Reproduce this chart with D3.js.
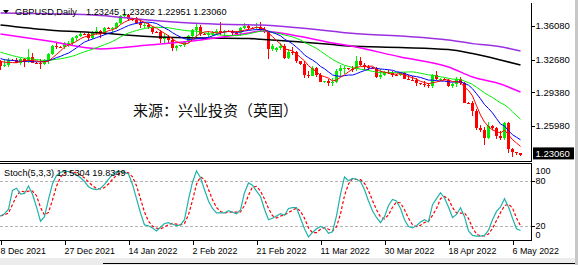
<!DOCTYPE html>
<html><head><meta charset="utf-8">
<script src="https://cdn.jsdelivr.net/npm/d3@7"></script>
<style>html,body{margin:0;padding:0;background:#fff;overflow:hidden}svg{display:block}</style>
</head><body><div id="chart"></div>
<script>
// ---------- DATA ----------
const dates = [
"2021-12-08","2021-12-09","2021-12-10","2021-12-12","2021-12-13","2021-12-14","2021-12-15","2021-12-16","2021-12-17","2021-12-19",
"2021-12-20","2021-12-21","2021-12-22","2021-12-23","2021-12-24","2021-12-26","2021-12-27","2021-12-28","2021-12-29","2021-12-30",
"2021-12-31","2022-01-02","2022-01-03","2022-01-04","2022-01-05","2022-01-06","2022-01-07","2022-01-09","2022-01-10","2022-01-11",
"2022-01-12","2022-01-13","2022-01-14","2022-01-16","2022-01-17","2022-01-18","2022-01-19","2022-01-20","2022-01-21","2022-01-23",
"2022-01-24","2022-01-25","2022-01-26","2022-01-27","2022-01-28","2022-01-30","2022-01-31","2022-02-01","2022-02-02","2022-02-03",
"2022-02-04","2022-02-06","2022-02-07","2022-02-08","2022-02-09","2022-02-10","2022-02-11","2022-02-13","2022-02-14","2022-02-15",
"2022-02-16","2022-02-17","2022-02-18","2022-02-20","2022-02-21","2022-02-22","2022-02-23","2022-02-24","2022-02-25","2022-02-27",
"2022-02-28","2022-03-01","2022-03-02","2022-03-03","2022-03-04","2022-03-06","2022-03-07","2022-03-08","2022-03-09","2022-03-10",
"2022-03-11","2022-03-13","2022-03-14","2022-03-15","2022-03-16","2022-03-17","2022-03-18","2022-03-20","2022-03-21","2022-03-22",
"2022-03-23","2022-03-24","2022-03-25","2022-03-27","2022-03-28","2022-03-29","2022-03-30","2022-03-31","2022-04-01","2022-04-03",
"2022-04-04","2022-04-05","2022-04-06","2022-04-07","2022-04-08","2022-04-10","2022-04-11","2022-04-12","2022-04-13","2022-04-14",
"2022-04-15","2022-04-17","2022-04-18","2022-04-19","2022-04-20","2022-04-21","2022-04-22","2022-04-24","2022-04-25","2022-04-26",
"2022-04-27","2022-04-28","2022-04-29","2022-05-01","2022-05-02","2022-05-03","2022-05-04","2022-05-05","2022-05-06","2022-05-08",
"2022-05-09"];

const opens = [
1.3240,1.3205,1.3215,1.3265,1.3262,1.3235,1.3270,1.3250,1.3295,1.3235,
1.3230,1.3220,1.3250,1.3325,1.3410,1.3400,1.3398,1.3435,1.3440,1.3490,
1.3505,1.3530,1.3525,1.3490,1.3540,1.3555,1.3530,1.3590,1.3588,1.3590,
1.3640,1.3705,1.3715,1.3675,1.3670,1.3640,1.3615,1.3620,1.3595,1.3550,
1.3548,1.3480,1.3500,1.3465,1.3390,1.3410,1.3412,1.3450,1.3510,1.3570,
1.3600,1.3530,1.3528,1.3530,1.3535,1.3560,1.3555,1.3560,1.3555,1.3540,
1.3535,1.3590,1.3610,1.3590,1.3588,1.3595,1.3570,1.3550,1.3380,1.3370,
1.3390,1.3410,1.3280,1.3350,1.3345,1.3250,1.3225,1.3110,1.3105,1.3180,
1.3110,1.3040,1.3048,1.3030,1.3040,1.3150,1.3180,1.3180,1.3175,1.3170,
1.3250,1.3210,1.3190,1.3185,1.3178,1.3090,1.3110,1.3145,1.3135,1.3115,
1.3110,1.3130,1.3070,1.3065,1.3060,1.3030,1.3020,1.3015,1.3000,1.3110,
1.3070,1.3075,1.3065,1.3000,1.3020,1.3070,1.3030,1.2835,1.2830,1.2745,
1.2575,1.2560,1.2480,1.2600,1.2575,1.2500,1.2480,1.2625,1.2365,1.2335,
1.23245];
const highs = [
1.3262,1.3275,1.3280,1.3270,1.3280,1.3280,1.3285,1.3375,1.3340,1.3240,
1.3270,1.3270,1.3340,1.3415,1.3440,1.3405,1.3450,1.3460,1.3500,1.3520,
1.3550,1.3535,1.3545,1.3560,1.3600,1.3565,1.3600,1.3595,1.3600,1.3650,
1.3720,1.3749,1.3725,1.3680,1.3700,1.3665,1.3645,1.3640,1.3605,1.3555,
1.3565,1.3535,1.3520,1.3485,1.3420,1.3415,1.3455,1.3520,1.3580,1.3630,
1.3620,1.3535,1.3560,1.3560,1.3580,1.3645,1.3570,1.3565,1.3570,1.3560,
1.3600,1.3640,1.3620,1.3595,1.3640,1.3645,1.3600,1.3560,1.3430,1.3395,
1.3440,1.3430,1.3380,1.3400,1.3360,1.3255,1.3255,1.3150,1.3200,1.3195,
1.3130,1.3050,1.3070,1.3080,1.3170,1.3210,1.3200,1.3185,1.3200,1.3300,
1.3290,1.3230,1.3215,1.3190,1.3190,1.3170,1.3150,1.3160,1.3150,1.3120,
1.3135,1.3140,1.3110,1.3100,1.3080,1.3035,1.3050,1.3030,1.3120,1.3150,
1.3080,1.3080,1.3070,1.3030,1.3090,1.3090,1.3040,1.2845,1.2850,1.2770,
1.2610,1.2590,1.2635,1.2605,1.2585,1.2545,1.2640,1.2640,1.2380,1.2340,
1.23262];
const lows = [
1.3160,1.3195,1.3190,1.3255,1.3230,1.3210,1.3190,1.3230,1.3230,1.3225,
1.3170,1.3210,1.3220,1.3315,1.3380,1.3390,1.3380,1.3400,1.3410,1.3460,
1.3495,1.3515,1.3460,1.3480,1.3520,1.3490,1.3520,1.3580,1.3530,1.3575,
1.3630,1.3690,1.3655,1.3660,1.3630,1.3590,1.3585,1.3580,1.3525,1.3540,
1.3440,1.3435,1.3435,1.3360,1.3360,1.3400,1.3400,1.3435,1.3500,1.3490,
1.3510,1.3520,1.3500,1.3510,1.3520,1.3520,1.3490,1.3550,1.3510,1.3520,
1.3510,1.3580,1.3570,1.3580,1.3570,1.3550,1.3540,1.3270,1.3360,1.3350,
1.3365,1.3270,1.3270,1.3320,1.3230,1.3215,1.3085,1.3080,1.3100,1.3090,
1.3040,1.3030,1.3000,1.3000,1.3030,1.3090,1.3120,1.3165,1.3140,1.3150,
1.3200,1.3160,1.3160,1.3170,1.3080,1.3070,1.3100,1.3120,1.3090,1.3105,
1.3100,1.3070,1.3060,1.3050,1.3000,1.3015,1.2990,1.2980,1.2980,1.3060,
1.3050,1.3060,1.2990,1.2980,1.2990,1.3010,1.2830,1.2820,1.2700,1.2560,
1.2540,1.2410,1.2470,1.2560,1.2470,1.2460,1.2460,1.2330,1.2280,1.2310,
1.22951];
const closes = [
1.3205,1.3215,1.3265,1.3262,1.3235,1.3270,1.3250,1.3295,1.3235,1.3230,
1.3220,1.3250,1.3325,1.3410,1.3400,1.3398,1.3435,1.3440,1.3490,1.3505,
1.3530,1.3525,1.3490,1.3540,1.3555,1.3530,1.3590,1.3588,1.3590,1.3640,
1.3705,1.3715,1.3675,1.3670,1.3640,1.3615,1.3620,1.3595,1.3550,1.3548,
1.3480,1.3500,1.3465,1.3390,1.3410,1.3412,1.3450,1.3510,1.3570,1.3600,
1.3530,1.3528,1.3530,1.3535,1.3560,1.3555,1.3560,1.3555,1.3540,1.3535,
1.3590,1.3610,1.3590,1.3588,1.3595,1.3570,1.3550,1.3380,1.3410,1.3390,
1.3410,1.3280,1.3350,1.3345,1.3250,1.3225,1.3110,1.3105,1.3180,1.3110,
1.3040,1.3048,1.3030,1.3040,1.3150,1.3180,1.3180,1.3175,1.3170,1.3250,
1.3210,1.3190,1.3185,1.3178,1.3090,1.3110,1.3145,1.3135,1.3115,1.3110,
1.3130,1.3070,1.3065,1.3060,1.3030,1.3020,1.3015,1.3000,1.3110,1.3070,
1.3075,1.3065,1.3000,1.3020,1.3070,1.3030,1.2835,1.2830,1.2745,1.2575,
1.2560,1.2480,1.2600,1.2575,1.2500,1.2480,1.2625,1.2365,1.2335,1.2325,
1.23060];

// closes of the bars just before the visible window (needed by the moving averages)
const priorCloses = [1.3460,1.3480,1.3500,1.3440,1.3440,1.3395,1.3375,1.3335,1.3320,1.3335,
                     1.3340,1.3300,1.3300,1.3275,1.3320,1.3265,1.3265,1.3280,1.3245];

// slow moving averages at sample bars
const slowMaBars   = [0, 12, 25, 37, 50, 62, 65, 75, 83, 87, 100, 112, 118, 125, 130];
const maPurple     = [1.3739,1.3731,1.3715,1.3669,1.3633,1.3620,1.3618,1.3588,1.3555,1.3537,1.3507,1.3467,1.3430,1.3399,1.3355];
const maBlack      = [1.3618,1.3568,1.3537,1.3502,1.3487,1.3482,1.3475,1.3446,1.3420,1.3406,1.3391,1.3371,1.3330,1.3265,1.3214];
const maMagenta    = [1.3527,1.3456,1.3376,1.3416,1.3467,1.3537,1.3557,1.3502,1.3436,1.3410,1.3295,1.3194,1.3093,1.3022,1.2941];

// Stochastic (5,3,3) main line
const stochMain = [
33,36,42,67,70,62,63,73,62,45,
26,32,55,76,87,91,93,92,90,88,
84,79,72,69,68,70,75,82,88,92,
92,91,89,75,56,37,21,20,17,13,
18,23,24,22,20,21,28,55,78,93,
84,68,53,43,37,37,37,40,38,36,
41,64,77,74,66,59,42,28,30,33,
36,34,43,44,44,30,16,5,11,16,
19,17,10,12,33,62,85,80,83,82,
79,68,53,40,31,24,32,47,55,53,
43,28,19,17,20,25,28,25,48,56,
64,57,45,31,35,44,32,13,7,6,
6,7,14,28,39,45,56,45,30,16,
13.5304];

const priceTicks = [1.36080, 1.32680, 1.29380, 1.25980];
const stochTicks = [100, 80, 20, 0];
const stochLevels = [80, 20];
const dateTickDates  = ["2021-12-08","2021-12-27","2022-01-14","2022-02-02","2022-02-21","2022-03-11","2022-03-30","2022-04-18","2022-05-06"];
const dateTickLabels = ["8 Dec 2021","27 Dec 2021","14 Jan 2022","2 Feb 2022","21 Feb 2022","11 Mar 2022","30 Mar 2022","18 Apr 2022","6 May 2022"];
const symbolTitle = "GBPUSD,Daily";
const ohlcTitle = "1.23245 1.23262 1.22951 1.23060";
const lastPrice = 1.23060;
const stochTitle = "Stoch(5,3,3) 13.5304 19.8349";
const watermark = "来源：兴业投资（英国）";

// ---------- CHART ----------
const W = 578, H = 265;
const font = "'Liberation Sans', Arial, sans-serif";
const svg = d3.select("#chart").append("svg").attr("width", W).attr("height", H);
svg.append("rect").attr("width", W).attr("height", H).attr("fill", "#fff");

const panelRight = 531.5;
const x = d3.scaleLinear().domain([0, dates.length - 1]).range([0.5, 0.5 + 4 * (dates.length - 1)]);
const y = d3.scaleLinear().domain([1.2598, 1.3608]).range([126, 26]);
const ys = d3.scaleLinear().domain([0, 100]).range([240.7, 165.7]);

const defs = svg.append("defs");
defs.append("clipPath").attr("id", "clipMain").append("rect").attr("x", 0).attr("y", 3).attr("width", 531).attr("height", 158);
defs.append("clipPath").attr("id", "clipStoch").append("rect").attr("x", 0).attr("y", 164).attr("width", 531).attr("height", 76);

const main = svg.append("g").attr("clip-path", "url(#clipMain)");

// candles
const bars = dates.map((d, i) => ({i, o: opens[i], h: highs[i], l: lows[i], c: closes[i]}));
const cg = main.append("g").attr("shape-rendering", "crispEdges");
bars.forEach(b => {
  const col = b.c >= b.o ? "#00ee00" : "#ff0000";
  const cx = x(b.i);
  cg.append("line").attr("x1", cx).attr("x2", cx).attr("y1", y(b.h)).attr("y2", y(b.l)).attr("stroke", col).attr("stroke-width", 1);
  const top = y(Math.max(b.o, b.c)), bot = y(Math.min(b.o, b.c));
  cg.append("rect").attr("x", cx - 1.5).attr("y", top).attr("width", 3).attr("height", Math.max(1, bot - top)).attr("fill", col);
});

// fast moving averages (simple MA of closes)
const allCloses = priorCloses.concat(closes);
function sma(period) {
  return closes.map((c, i) => {
    const k = i + priorCloses.length;
    return d3.mean(allCloses.slice(k - period + 1, k + 1));
  });
}
const lineIdx = d3.line().x((d, i) => x(i)).y(d => y(d));
const lineSlow = d3.line().x(d => x(d[0])).y(d => y(d[1])).curve(d3.curveMonotoneX);
const slow = [[maPurple, "#9b30e0"], [maBlack, "#000000"], [maMagenta, "#ff00ff"]];
slow.forEach(([vals, col]) => {
  main.append("path").datum(slowMaBars.map((b, k) => [b, vals[k]]))
    .attr("d", lineSlow).attr("fill", "none").attr("stroke", col).attr("stroke-width", 1.5);
});
[[20, "#00ee00"], [10, "#0000ff"], [5, "#ff0000"]].forEach(([p, col]) => {
  main.append("path").datum(sma(p)).attr("d", lineIdx).attr("fill", "none").attr("stroke", col).attr("stroke-width", 1);
});

// watermark
svg.append("text").attr("x", 133).attr("y", 116).attr("font-family", "'Noto Sans CJK SC', sans-serif")
  .attr("font-size", 15).attr("fill", "#111").text(watermark);

// title
svg.append("path").attr("d", "M3,10 L9,10 L6,13.5 Z").attr("fill", "#000");
svg.append("text").attr("x", 15).attr("y", 14.5).attr("font-family", font).attr("font-size", 9.2).attr("fill", "#000").text(symbolTitle);
svg.append("text").attr("x", 86).attr("y", 14.5).attr("font-family", font).attr("font-size", 9.2).attr("fill", "#000").text(ohlcTitle);

// main frame
const fr = svg.append("g").attr("shape-rendering", "crispEdges").attr("stroke", "#000").attr("fill", "none");
fr.append("line").attr("x1", panelRight).attr("x2", panelRight).attr("y1", 3).attr("y2", 161.5);
fr.append("line").attr("x1", 0).attr("x2", panelRight).attr("y1", 161.5).attr("y2", 161.5);
fr.append("line").attr("x1", 0).attr("x2", panelRight).attr("y1", 163.5).attr("y2", 163.5);
fr.append("line").attr("x1", panelRight).attr("x2", panelRight).attr("y1", 163.5).attr("y2", 240.5);
fr.append("line").attr("x1", 0).attr("x2", panelRight).attr("y1", 240.5).attr("y2", 240.5);

// price axis
const pa = svg.append("g");
priceTicks.forEach(t => {
  pa.append("line").attr("x1", 531.5).attr("x2", 534.5).attr("y1", Math.round(y(t)) + 0.5).attr("y2", Math.round(y(t)) + 0.5)
    .attr("stroke", "#000").attr("shape-rendering", "crispEdges");
  pa.append("text").attr("x", 535.5).attr("y", y(t)).attr("dy", "0.35em").attr("font-family", font).attr("font-size", 9.5)
    .attr("fill", "#000").text(t.toFixed(5));
});
const ly = y(lastPrice) - 1.5;
pa.append("rect").attr("x", 533).attr("y", ly - 6).attr("width", 41).attr("height", 12).attr("fill", "#000");
pa.append("text").attr("x", 535.5).attr("y", ly).attr("dy", "0.35em").attr("font-family", font).attr("font-size", 9.5)
  .attr("fill", "#fff").text(lastPrice.toFixed(5));

// stochastic panel
const st = svg.append("g").attr("clip-path", "url(#clipStoch)");
stochLevels.forEach(l => {
  st.append("line").attr("x1", 0).attr("x2", 531).attr("y1", Math.round(ys(l)) + 0.5).attr("y2", Math.round(ys(l)) + 0.5)
    .attr("stroke", "#b4b4b4").attr("stroke-dasharray", "3,2").attr("shape-rendering", "crispEdges");
});
const stochSignal = stochMain.map((v, i) => d3.mean(stochMain.slice(Math.max(0, i - 2), i + 1)));
const lineS = d3.line().x((d, i) => x(i)).y(d => ys(d));
st.append("path").datum(stochSignal).attr("d", lineS).attr("fill", "none").attr("stroke", "#ff0000").attr("stroke-width", 1.2).attr("stroke-dasharray", "3,2");
st.append("path").datum(stochMain).attr("d", lineS).attr("fill", "none").attr("stroke", "#20b2aa").attr("stroke-width", 1.2);
svg.append("text").attr("x", 4).attr("y", 176).attr("font-family", font).attr("font-size", 9.2).attr("fill", "#000").text(stochTitle);

const sa = svg.append("g");
const stochLabelY = {100: 171, 80: 181, 20: 225.5, 0: 235};
stochTicks.forEach(t => {
  sa.append("text").attr("x", 535.5).attr("y", stochLabelY[t]).attr("dy", "0.35em").attr("font-family", font).attr("font-size", 9)
    .attr("fill", "#000").text(t);
});
stochLevels.forEach(l => {
  sa.append("line").attr("x1", 531.5).attr("x2", 534.5).attr("y1", Math.round(ys(l)) + 0.5).attr("y2", Math.round(ys(l)) + 0.5)
    .attr("stroke", "#000").attr("shape-rendering", "crispEdges");
});

// date axis
const da = svg.append("g");
dateTickDates.forEach((d, k) => {
  const i = dates.indexOf(d);
  const tx = Math.round(x(i)) + 0.5;
  da.append("line").attr("x1", tx).attr("x2", tx).attr("y1", 240.5).attr("y2", 245).attr("stroke", "#000").attr("shape-rendering", "crispEdges");
  da.append("text").attr("x", tx - 1).attr("y", 253.5).attr("font-family", font).attr("font-size", 8.9).attr("fill", "#000").text(dateTickLabels[k]);
});

// window chrome
svg.append("rect").attr("x", 0).attr("y", 258).attr("width", W).attr("height", 7).attr("fill", "#ececec");
svg.append("line").attr("x1", 103).attr("x2", W).attr("y1", 263.5).attr("y2", 263.5).attr("stroke", "#000").attr("shape-rendering", "crispEdges");
svg.append("rect").attr("x", 575).attr("y", 0).attr("width", 3).attr("height", H).attr("fill", "#c8c8c8");
</script>
</body></html>
